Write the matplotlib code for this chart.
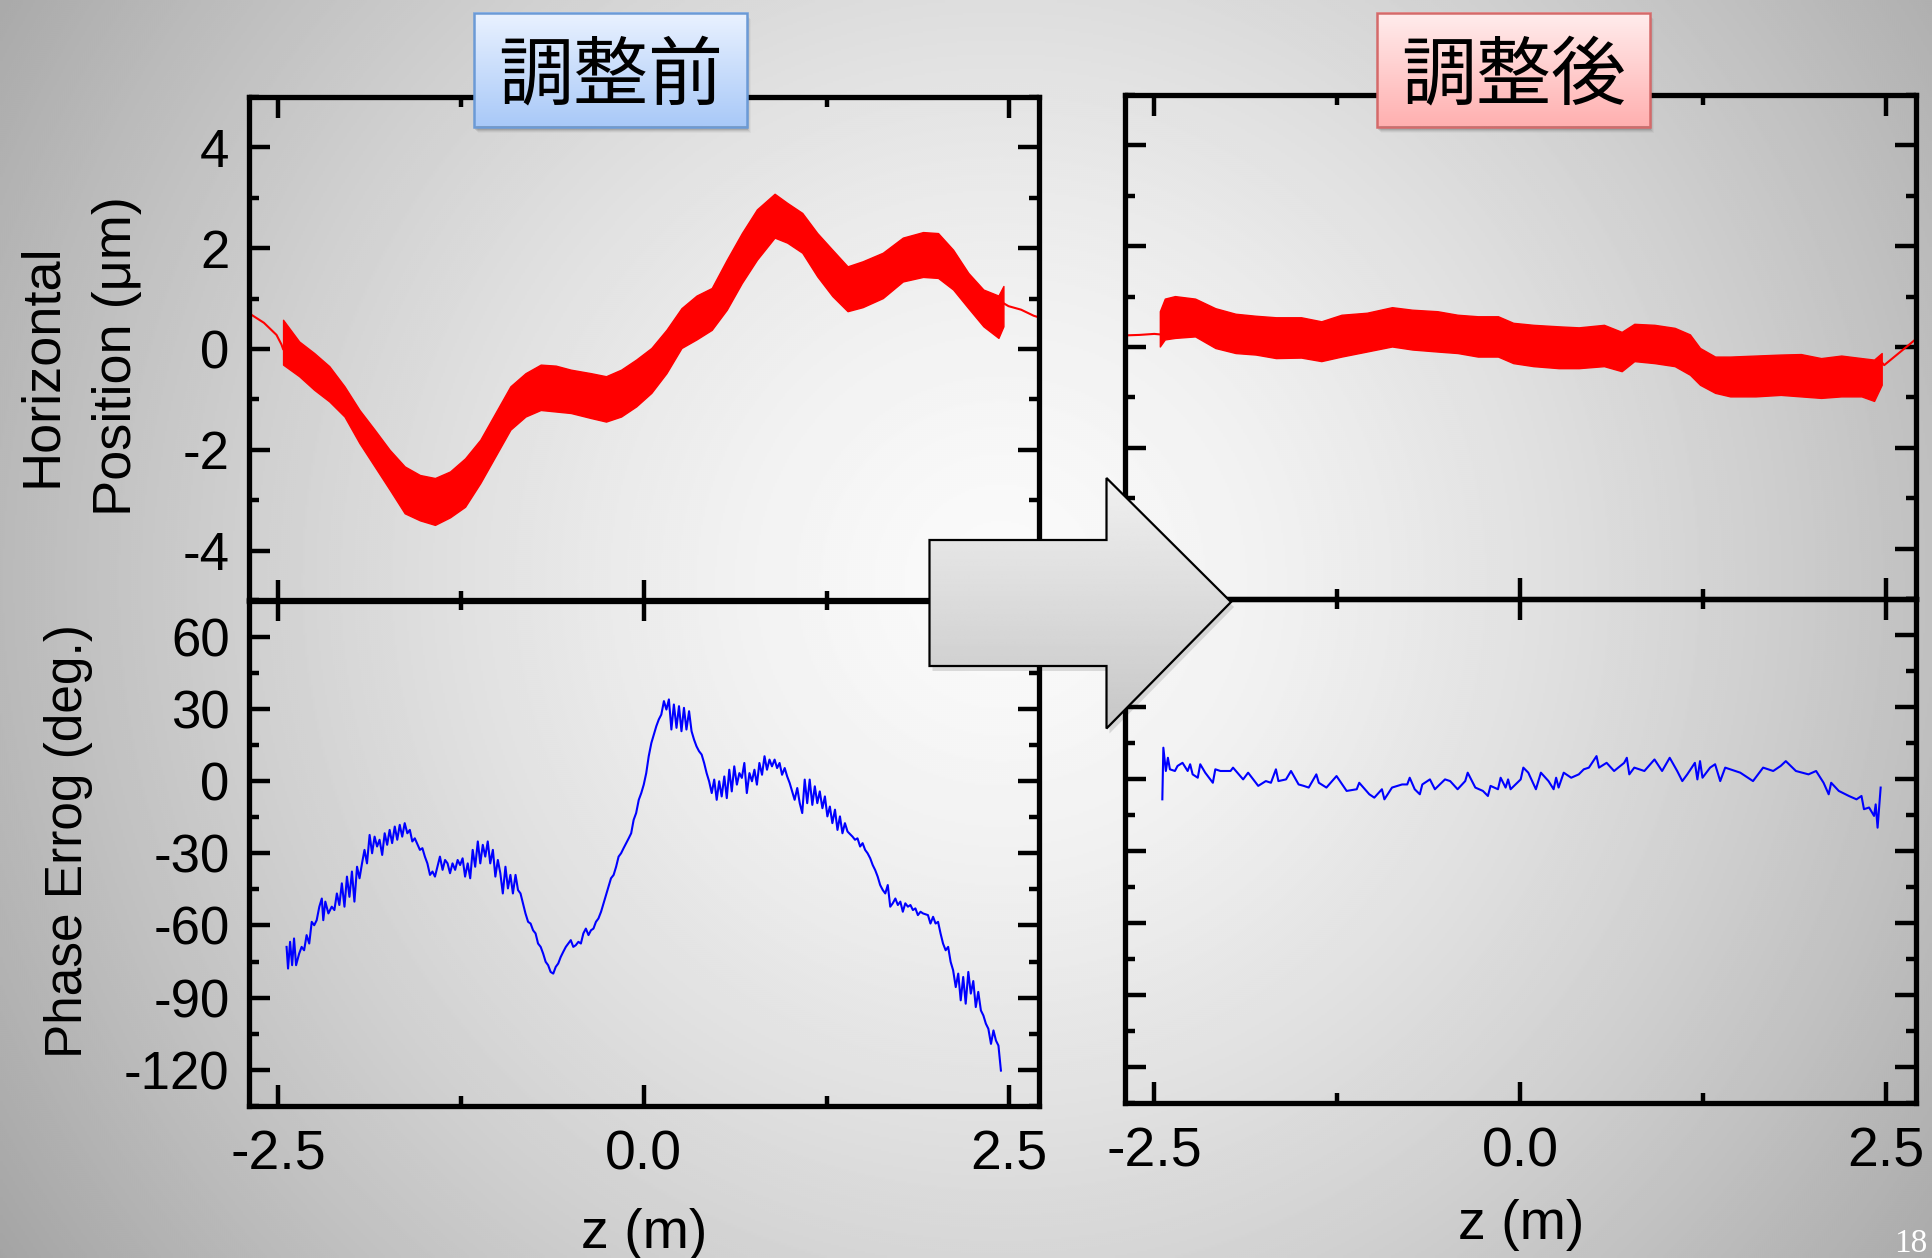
import numpy as np
import matplotlib
matplotlib.use("Agg")
import matplotlib.pyplot as plt
import matplotlib.colors as mcolors
from matplotlib.patches import Polygon, Rectangle
from matplotlib.ticker import FixedLocator, MultipleLocator, FormatStrFormatter

plt.rcParams['font.family'] = ['Liberation Sans', 'DejaVu Sans']
plt.rcParams['axes.unicode_minus'] = False

W, H = 1932, 1258
CJK = ['Noto Sans CJK JP', 'DejaVu Sans']

# ---------------- data ----------------
# before tuning: horizontal position band (upper / lower envelope, um)
z_before = [-2.467, -2.357, -2.254, -2.151, -2.047, -1.944, -1.841, -1.738, -1.635, -1.531,
            -1.428, -1.325, -1.222, -1.118, -1.015, -0.912, -0.809, -0.705, -0.602, -0.499,
            -0.361, -0.258, -0.155, -0.052, 0.052, 0.155, 0.258, 0.361, 0.465, 0.568,
            0.671, 0.774, 0.895, 0.981, 1.084, 1.187, 1.290, 1.394, 1.497, 1.635,
            1.772, 1.910, 2.013, 2.116, 2.220, 2.323, 2.426, 2.460]
pos_before_hi = [0.58, 0.15, -0.08, -0.34, -0.74, -1.21, -1.60, -2.00, -2.33, -2.50,
                 -2.56, -2.43, -2.17, -1.80, -1.27, -0.74, -0.48, -0.31, -0.33, -0.41,
                 -0.48, -0.54, -0.41, -0.21, 0.02, 0.38, 0.81, 1.06, 1.21, 1.77,
                 2.30, 2.77, 3.08, 2.90, 2.70, 2.30, 1.97, 1.64, 1.74, 1.91,
                 2.21, 2.32, 2.30, 1.97, 1.51, 1.18, 1.06, 1.25]
pos_before_lo = [-0.31, -0.54, -0.81, -1.04, -1.34, -1.87, -2.33, -2.79, -3.26, -3.40,
                 -3.49, -3.34, -3.13, -2.66, -2.13, -1.60, -1.34, -1.21, -1.24, -1.27,
                 -1.37, -1.44, -1.34, -1.14, -0.87, -0.48, 0.02, 0.19, 0.38, 0.78,
                 1.31, 1.77, 2.21, 2.11, 1.91, 1.44, 1.05, 0.75, 0.83, 1.01,
                 1.34, 1.43, 1.41, 1.18, 0.81, 0.45, 0.22, 0.45]
lead_before_l_z = [-2.684, -2.598, -2.512, -2.478, -2.467]
lead_before_l_y = [0.68, 0.52, 0.28, 0.09, 0.0]
lead_before_r_z = [2.460, 2.495, 2.581, 2.667, 2.70]
lead_before_r_y = [0.91, 0.85, 0.78, 0.66, 0.63]

# after tuning: horizontal position band
z_after = [-2.462, -2.428, -2.359, -2.221, -2.083, -1.945, -1.807, -1.669, -1.497, -1.359,
           -1.221, -1.048, -0.876, -0.738, -0.566, -0.428, -0.290, -0.152, -0.048, 0.090,
           0.262, 0.400, 0.572, 0.693, 0.779, 0.917, 1.055, 1.159, 1.228, 1.331,
           1.434, 1.607, 1.779, 1.917, 2.055, 2.193, 2.331, 2.417, 2.469]
pos_after_hi = [0.71, 0.96, 1.01, 0.96, 0.77, 0.66, 0.62, 0.59, 0.59, 0.51,
                0.64, 0.68, 0.79, 0.74, 0.71, 0.64, 0.61, 0.61, 0.48, 0.44,
                0.41, 0.39, 0.44, 0.30, 0.46, 0.44, 0.38, 0.25, -0.02, -0.19,
                -0.19, -0.17, -0.15, -0.14, -0.22, -0.17, -0.22, -0.25, -0.12]
pos_after_lo = [0.01, 0.15, 0.18, 0.21, -0.02, -0.12, -0.15, -0.22, -0.21, -0.28,
                -0.19, -0.09, 0.01, -0.05, -0.09, -0.12, -0.19, -0.19, -0.32, -0.38,
                -0.42, -0.42, -0.38, -0.48, -0.28, -0.32, -0.38, -0.55, -0.75, -0.91,
                -0.98, -0.98, -0.95, -0.98, -1.01, -0.98, -0.98, -1.07, -0.75]
lead_after_l_z = [-2.70, -2.60, -2.50, -2.462]
lead_after_l_y = [0.23, 0.24, 0.26, 0.25]
lead_after_r_z = [2.469, 2.486, 2.70]
lead_after_r_y = [-0.30, -0.36, 0.15]

# before tuning: phase error (deg.)
zp_before = [-2.443, -2.433, -2.419, -2.405, -2.392, -2.378, -2.357, -2.340, -2.323, -2.306,
             -2.288, -2.271, -2.254, -2.237, -2.219, -2.202, -2.192, -2.178, -2.157, -2.134,
             -2.116, -2.099, -2.082, -2.065, -2.047, -2.030, -2.013, -1.996, -1.979, -1.961,
             -1.944, -1.927, -1.910, -1.893, -1.875, -1.858, -1.841, -1.824, -1.807, -1.789,
             -1.772, -1.755, -1.738, -1.721, -1.703, -1.686, -1.669, -1.652, -1.635, -1.617,
             -1.600, -1.583, -1.566, -1.531, -1.514, -1.497, -1.480, -1.462, -1.445, -1.428,
             -1.411, -1.394, -1.376, -1.359, -1.342, -1.325, -1.308, -1.290, -1.273, -1.256,
             -1.239, -1.222, -1.204, -1.187, -1.170, -1.153, -1.135, -1.118, -1.101, -1.084,
             -1.067, -1.050, -1.032, -1.015, -0.998, -0.981, -0.964, -0.946, -0.929, -0.912,
             -0.895, -0.877, -0.860, -0.843, -0.826, -0.809, -0.791, -0.774, -0.757, -0.740,
             -0.723, -0.705, -0.688, -0.671, -0.654, -0.637, -0.619, -0.602, -0.585, -0.568,
             -0.551, -0.533, -0.516, -0.499, -0.482, -0.465, -0.447, -0.430, -0.413, -0.396,
             -0.378, -0.361, -0.344, -0.327, -0.310, -0.292, -0.275, -0.258, -0.241, -0.224,
             -0.206, -0.189, -0.172, -0.155, -0.138, -0.120, -0.103, -0.086, -0.069, -0.052,
             -0.034, -0.017, 0.000, 0.017, 0.034, 0.052, 0.069, 0.086, 0.103, 0.120,
             0.138, 0.155, 0.172, 0.189, 0.206, 0.224, 0.241, 0.258, 0.275, 0.292,
             0.310, 0.327, 0.344, 0.361, 0.378, 0.396, 0.413, 0.430, 0.447, 0.465,
             0.482, 0.499, 0.516, 0.533, 0.551, 0.568, 0.585, 0.602, 0.619, 0.637,
             0.654, 0.671, 0.688, 0.705, 0.723, 0.740, 0.757, 0.774, 0.791, 0.809,
             0.826, 0.843, 0.860, 0.877, 0.895, 0.912, 0.929, 0.946, 0.964, 0.981,
             0.998, 1.015, 1.032, 1.050, 1.067, 1.084, 1.101, 1.118, 1.135, 1.153,
             1.170, 1.187, 1.204, 1.222, 1.239, 1.256, 1.273, 1.290, 1.308, 1.325,
             1.342, 1.359, 1.376, 1.394, 1.428, 1.445, 1.462, 1.480, 1.497, 1.514,
             1.531, 1.549, 1.566, 1.583, 1.600, 1.617, 1.635, 1.652, 1.669, 1.686,
             1.703, 1.721, 1.738, 1.755, 1.772, 1.789, 1.807, 1.824, 1.841, 1.858,
             1.875, 1.893, 1.910, 1.944, 1.961, 1.979, 1.996, 2.013, 2.030, 2.047,
             2.065, 2.082, 2.099, 2.116, 2.134, 2.151, 2.168, 2.185, 2.202, 2.220,
             2.237, 2.254, 2.271, 2.288, 2.306, 2.323, 2.340, 2.357, 2.375, 2.392,
             2.409, 2.426, 2.443]
phase_before = [-68.9, -77.9, -66.8, -76.5, -65.4, -76.5, -71.7, -68.9, -70.3, -64.0,
                -67.5, -58.5, -59.9, -57.8, -52.2, -48.8, -57.8, -50.1, -55.0, -52.2,
                -53.6, -46.7, -51.5, -42.5, -52.2, -39.7, -48.1, -37.6, -50.1, -35.6,
                -40.4, -34.2, -28.6, -34.2, -22.4, -30.0, -23.1, -27.2, -24.4, -30.7,
                -21.7, -26.5, -20.3, -25.8, -18.9, -24.4, -18.2, -23.1, -17.5, -21.7,
                -20.3, -25.1, -23.8, -28.6, -27.9, -31.4, -34.2, -39.0, -37.6, -39.7,
                -35.6, -31.4, -36.9, -32.8, -34.2, -38.3, -34.2, -36.9, -32.8, -34.9,
                -32.1, -39.7, -34.2, -40.4, -28.6, -35.6, -25.1, -34.2, -26.5, -31.4,
                -25.1, -34.2, -28.6, -39.7, -32.8, -38.3, -46.7, -35.6, -44.6, -39.0,
                -46.7, -39.0, -45.3, -46.7, -50.8, -55.0, -58.5, -59.2, -62.0, -63.3,
                -67.5, -68.9, -71.7, -75.1, -76.5, -79.3, -80.0, -77.2, -75.8, -73.1,
                -71.0, -68.9, -67.5, -66.1, -68.9, -68.2, -66.8, -67.5, -63.3, -61.3,
                -64.0, -62.0, -61.3, -58.5, -57.1, -54.3, -50.8, -47.4, -43.9, -40.4,
                -39.0, -35.6, -31.4, -30.0, -27.9, -25.8, -23.8, -21.7, -16.1, -13.3,
                -7.8, -5.0, -1.5, 3.3, 10.3, 15.8, 19.3, 22.8, 25.6, 27.6,
                33.2, 29.7, 33.9, 21.4, 31.8, 22.1, 31.1, 20.7, 30.4, 21.4,
                29.0, 20.7, 17.2, 14.4, 12.4, 11.0, 7.5, 3.3, -0.1, -5.0,
                0.6, -7.8, -0.1, -6.4, 1.9, -7.1, 4.7, -4.3, 6.1, -1.5,
                3.3, 1.3, 7.5, -5.0, 3.3, -0.1, 4.7, -1.5, 7.5, 2.6,
                10.3, 4.7, 8.9, 6.1, 8.9, 5.4, 7.5, 2.6, 5.4, 1.9,
                -0.8, -4.3, -7.8, -2.9, -9.2, -13.3, 0.6, -9.2, 0.6, -9.9,
                -2.2, -9.2, -4.3, -11.3, -6.4, -14.7, -10.6, -17.5, -11.9, -20.3,
                -14.7, -21.7, -17.5, -21.0, -23.1, -24.4, -23.8, -27.2, -25.8, -28.6,
                -30.0, -32.1, -34.9, -37.0, -39.7, -43.2, -45.3, -46.7, -43.2, -52.2,
                -50.8, -48.8, -51.5, -50.1, -54.3, -50.8, -52.2, -51.5, -53.6, -52.9,
                -55.7, -54.3, -55.0, -55.7, -59.2, -56.4, -59.2, -58.5, -63.3, -67.5,
                -70.3, -68.9, -75.1, -78.6, -85.6, -80.0, -91.1, -81.4, -92.5, -79.3,
                -88.3, -83.1, -93.9, -87.6, -95.3, -97.4, -100.8, -102.9, -109.2, -103.6,
                -107.8, -109.9, -120.3]

# after tuning: phase error (deg.)
zp_after = [-2.445, -2.438, -2.421, -2.407, -2.393, -2.359, -2.341, -2.307, -2.272, -2.255,
            -2.238, -2.203, -2.186, -2.152, -2.100, -2.083, -2.048, -1.979, -1.962, -1.893,
            -1.859, -1.790, -1.738, -1.703, -1.669, -1.652, -1.600, -1.566, -1.514, -1.479,
            -1.445, -1.393, -1.376, -1.324, -1.255, -1.186, -1.117, -1.100, -1.031, -0.997,
            -0.945, -0.928, -0.876, -0.807, -0.772, -0.755, -0.721, -0.686, -0.669, -0.617,
            -0.583, -0.514, -0.479, -0.428, -0.376, -0.359, -0.307, -0.255, -0.221, -0.203,
            -0.152, -0.134, -0.100, -0.083, -0.066, 0.003, 0.021, 0.055, 0.107, 0.141,
            0.193, 0.228, 0.245, 0.262, 0.297, 0.348, 0.400, 0.434, 0.469, 0.521,
            0.538, 0.590, 0.641, 0.710, 0.728, 0.745, 0.779, 0.848, 0.917, 0.969,
            1.021, 1.072, 1.107, 1.141, 1.193, 1.210, 1.228, 1.245, 1.297, 1.331,
            1.366, 1.400, 1.503, 1.590, 1.659, 1.728, 1.779, 1.814, 1.883, 1.969,
            2.021, 2.072, 2.107, 2.124, 2.176, 2.245, 2.297, 2.331, 2.348, 2.383,
            2.417, 2.428, 2.441, 2.462]
phase_after = [-8.6, 12.9, 3.2, 8.7, 3.9, 3.2, 5.3, 6.6, 3.2, 6.0,
               1.8, 0.4, 6.0, 2.5, -1.7, 3.9, 3.2, 3.2, 4.6, -0.3,
               2.5, -3.0, -1.0, -1.7, 3.9, -1.0, -0.3, 3.2, -2.4, -3.0,
               -3.7, 1.8, -1.7, -3.7, 1.1, -5.1, -4.4, -1.7, -6.5, -7.9,
               -4.4, -8.6, -3.7, -2.4, -2.4, 0.4, -4.4, -6.5, -2.4, -0.3,
               -4.4, -0.3, -1.0, -4.4, -1.0, 2.5, -3.7, -5.1, -7.2, -3.0,
               -4.4, 0.4, -3.7, -0.3, -4.4, -0.3, 4.6, 2.5, -4.4, 2.5,
               -1.0, -4.4, 0.4, -3.7, 2.5, 0.4, 1.8, 3.9, 4.6, 9.4,
               4.6, 6.6, 3.2, 6.6, 8.7, 1.8, 4.6, 3.2, 8.0, 3.2,
               8.7, 3.2, -1.0, 1.8, 6.6, -0.3, 7.3, 0.4, 4.6, 6.0,
               -1.0, 4.6, 2.5, -1.0, 4.6, 3.2, 5.3, 7.3, 3.2, 1.8,
               3.2, -1.7, -6.5, -1.7, -5.1, -7.2, -8.6, -7.2, -12.7, -12.0,
               -15.5, -10.7, -20.4, -3.7]

x_ticks = [-2.5, 0.0, 2.5]
x_minor = [-1.25, 1.25]

# ---------------- figure ----------------
fig = plt.figure(figsize=(W / 100, H / 100), dpi=100)

# slide background: soft radial grey gradient
bg = fig.add_axes([0, 0, 1, 1], zorder=-5)
yy, xx = np.mgrid[0:H:2, 0:W:2]
dist = np.hypot(xx - 1000, yy - 580)
shade = np.clip((250 - 80 * (dist / 1150) ** 1.5) / 255, 0, 1)
bg.imshow(shade, cmap='gray', vmin=0, vmax=1, extent=[0, W, H, 0],
          aspect='auto', interpolation='bilinear')
bg.set_xlim(0, W)
bg.set_ylim(H, 0)
bg.axis('off')


def panel(x0, y0, x1, y1, ylim, ymaj, ymin, left_labels, bottom_labels):
    ax = fig.add_axes([x0 / W, 1 - y1 / H, (x1 - x0) / W, (y1 - y0) / H])
    ax.patch.set_alpha(0)
    ax.set_xlim(-2.7, 2.7)
    ax.set_ylim(*ylim)
    ax.xaxis.set_major_locator(FixedLocator(x_ticks))
    ax.xaxis.set_minor_locator(FixedLocator(x_minor))
    ax.xaxis.set_major_formatter(FormatStrFormatter('%.1f'))
    ax.yaxis.set_major_locator(MultipleLocator(ymaj))
    ax.yaxis.set_minor_locator(MultipleLocator(ymin))
    ax.tick_params(which='both', direction='in', top=True, right=True,
                   width=3.2, color='black')
    ax.tick_params(which='major', length=15)
    ax.tick_params(which='minor', length=7.5)
    ax.tick_params(axis='x', labelsize=40, pad=17, labelbottom=bottom_labels)
    ax.tick_params(axis='y', labelsize=38, pad=14, labelleft=left_labels)
    for s in ax.spines.values():
        s.set_linewidth(3.8)
    return ax


ax_pb = panel(249, 97, 1038.5, 601, (-5, 5), 2, 1, True, False)
ax_eb = panel(249, 600.5, 1038.5, 1106, (-135, 75), 30, 15, True, True)
ax_pa = panel(1125, 95, 1915.5, 599, (-5, 5), 2, 1, False, False)
ax_ea = panel(1125, 598.5, 1915.5, 1103, (-135, 75), 30, 15, False, True)

# red trajectory bands
ax_pb.fill_between(z_before, pos_before_lo, pos_before_hi, color='red', lw=1.0)
ax_pb.plot(lead_before_l_z, lead_before_l_y, color='red', lw=1.5)
ax_pb.plot(lead_before_r_z, lead_before_r_y, color='red', lw=1.5)
ax_pa.fill_between(z_after, pos_after_lo, pos_after_hi, color='red', lw=1.0)
ax_pa.plot(lead_after_l_z, lead_after_l_y, color='red', lw=1.5)
ax_pa.plot(lead_after_r_z, lead_after_r_y, color='red', lw=1.5)

# blue phase error curves
ax_eb.plot(zp_before, phase_before, color='#0000ff', lw=1.5)
ax_ea.plot(zp_after, phase_after, color='#0000ff', lw=1.5)

# ---------------- overlay: labels, title boxes, arrow ----------------
ov = fig.add_axes([0, 0, 1, 1], zorder=10)
ov.set_xlim(0, W)
ov.set_ylim(H, 0)
ov.set_autoscale_on(False)
ov.axis('off')
ov.patch.set_visible(False)

ov.text(42, 365, 'Horizontal', rotation=90, fontsize=39, ha='center', va='center')
ov.text(117, 356, 'Position (\u03bcm)', rotation=90, fontsize=39, ha='center', va='center')
ov.text(69, 841, 'Phase Errog (deg.)', rotation=90, fontsize=37, ha='center', va='center')
ov.text(644, 1248, 'z (m)', fontsize=40, ha='center', va='baseline')
ov.text(1521, 1239, 'z (m)', fontsize=40, ha='center', va='baseline')
ov.text(1927, 1252, '18', color='white', fontsize=24,
        family=['Liberation Serif', 'DejaVu Serif'], ha='right', va='baseline')


def title_box(x0, y0, x1, y1, top, bottom, edge, label):
    for k, a in enumerate([0.10, 0.07, 0.05, 0.03]):
        ov.add_patch(Rectangle((x0 + 1 + k, y0 + 3 + k), x1 - x0, y1 - y0,
                               color='black', alpha=a, lw=0, zorder=2))
    g = np.linspace(0, 1, 100)[:, None, None]
    img = (1 - g) * np.array(mcolors.to_rgb(top)) + g * np.array(mcolors.to_rgb(bottom))
    ov.imshow(img, extent=[x0, x1, y1, y0], aspect='auto', zorder=3,
              interpolation='bilinear')
    ov.add_patch(Rectangle((x0, y0), x1 - x0, y1 - y0, fill=False,
                           edgecolor=edge, lw=1.8, zorder=4))
    ov.text((x0 + x1) / 2, (y0 + y1) / 2 + 7, label, fontsize=54, family=CJK,
            ha='center', va='center', zorder=5)


title_box(473.5, 12.7, 747, 126.5, '#eaf2ff', '#a9c9f8', '#6b9ad6', '調整前')
title_box(1376.5, 12.7, 1650, 126.5, '#ffeded', '#ffb0b0', '#d46a6a', '調整後')

# block arrow
arrow_pts = [(929.5, 540), (1106.5, 540), (1106.5, 478), (1231, 602),
             (1106.5, 728.5), (1106.5, 666), (929.5, 666)]
ov.add_patch(Polygon([(x + 3, y + 5) for x, y in arrow_pts], closed=True,
                     color='black', alpha=0.12, lw=0, zorder=6))
outline = Polygon(arrow_pts, closed=True, fill=False, edgecolor='black', lw=1.6, zorder=8)
ov.add_patch(outline)
grad = np.linspace(0.94, 0.78, 100)[:, None]
im = ov.imshow(grad, cmap='gray', vmin=0, vmax=1, extent=[929.5, 1231, 728.5, 478],
               aspect='auto', zorder=7, interpolation='bilinear')
im.set_clip_path(outline)

fig.savefig('out.png', dpi=100)
